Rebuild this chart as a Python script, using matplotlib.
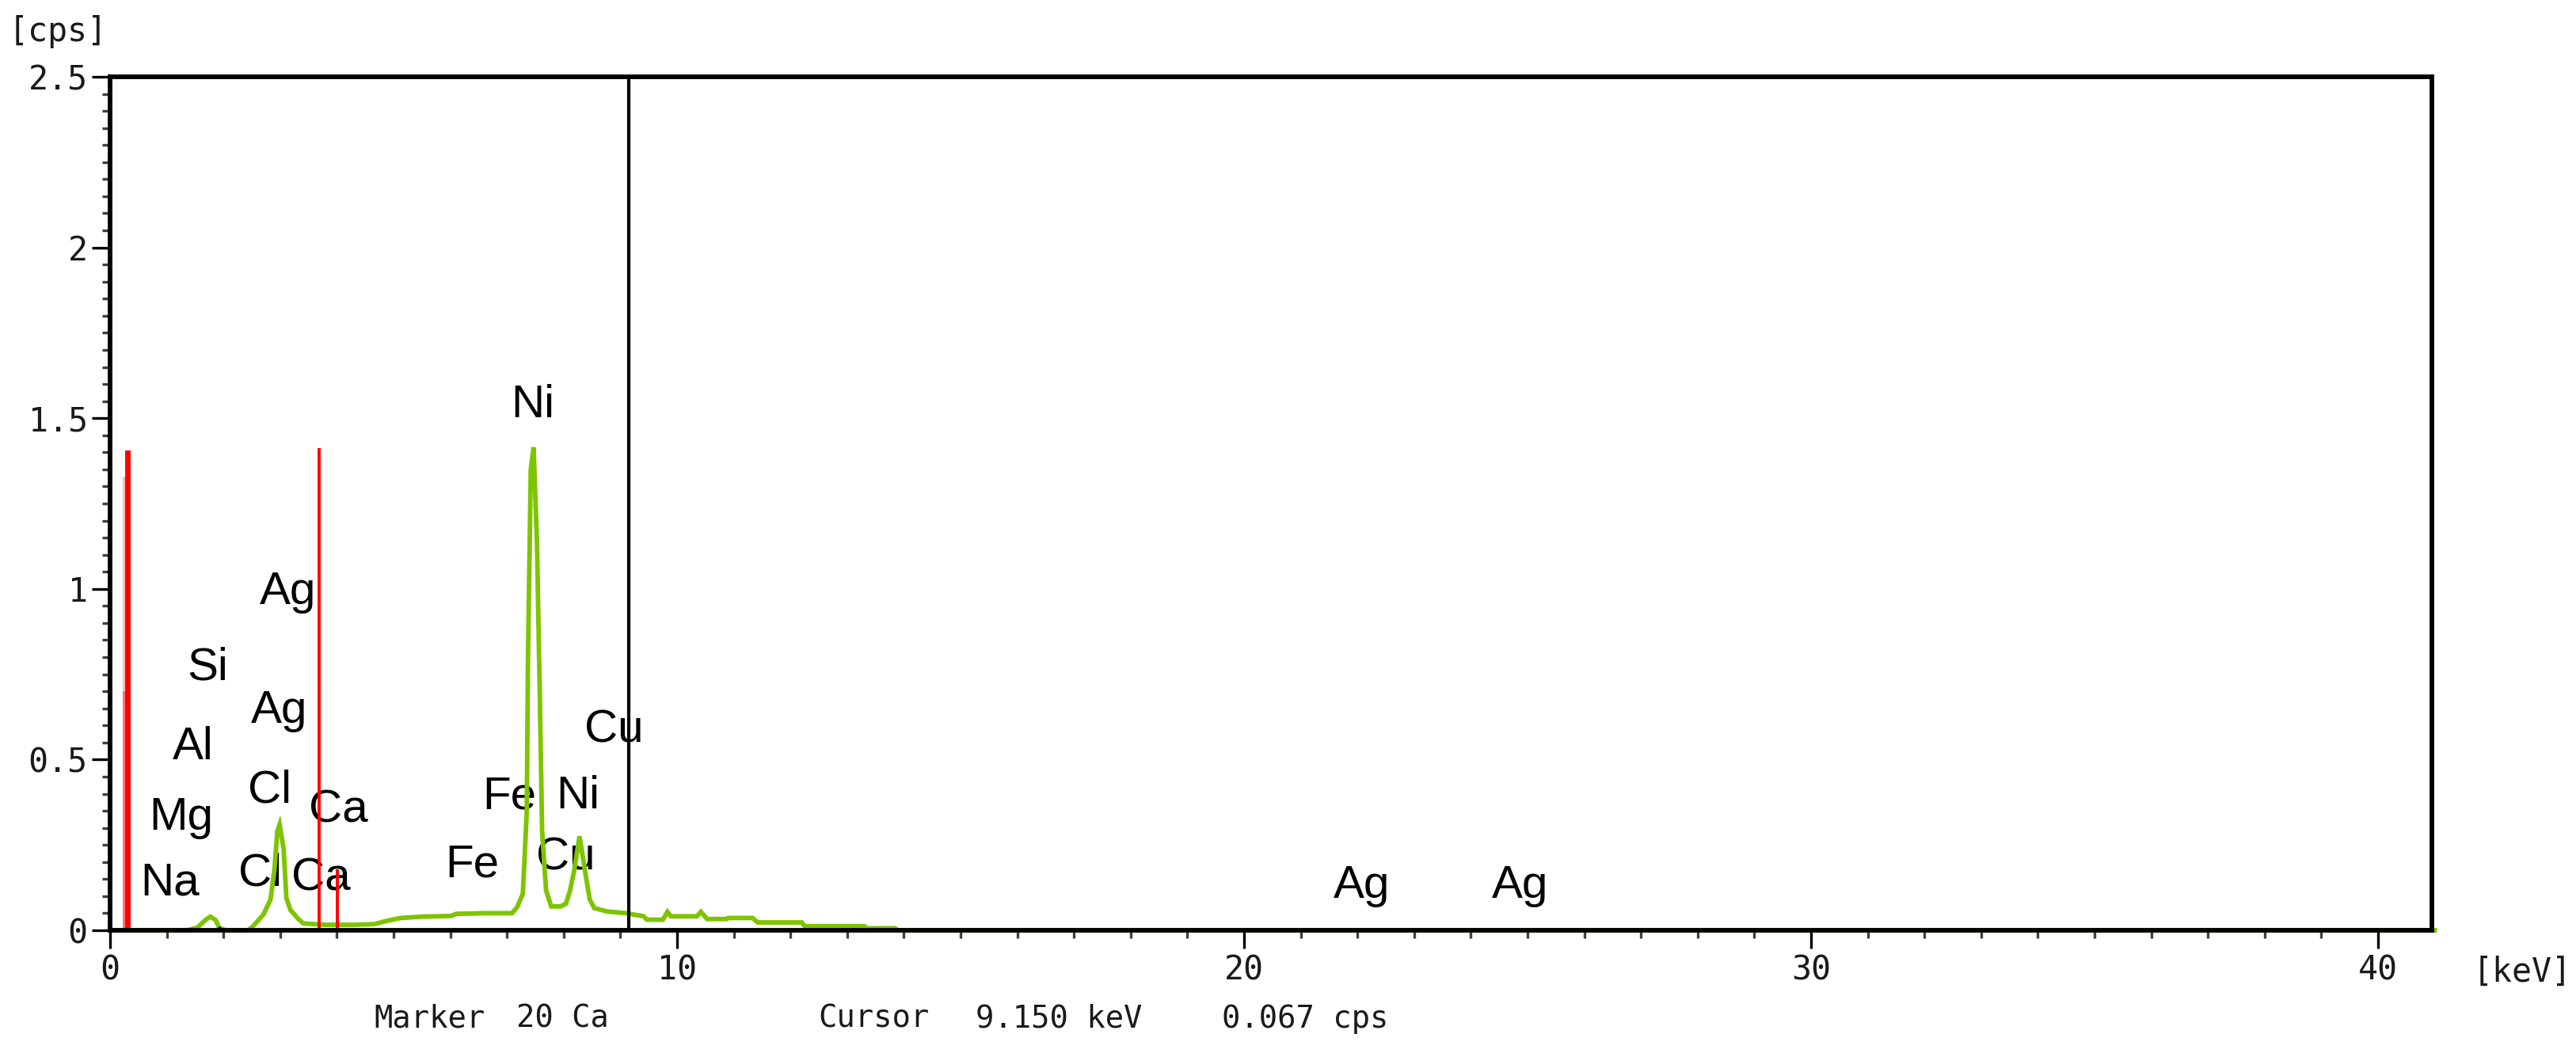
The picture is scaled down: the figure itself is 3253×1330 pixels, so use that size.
import matplotlib.pyplot as plt
from matplotlib.ticker import MultipleLocator

# EDS spectrum: energy [keV] vs count rate [cps]
energy_kev = [0.0, 1.35, 1.54, 1.68, 1.77, 1.86, 1.93, 2.05, 2.43, 2.51, 2.70, 2.83,
              2.90, 2.95, 2.99, 3.06, 3.11, 3.18, 3.32, 3.41, 3.80, 4.30, 4.66, 4.84,
              5.12, 5.50, 6.02, 6.10, 6.60, 7.09, 7.18, 7.28, 7.35, 7.37, 7.42, 7.47,
              7.53, 7.58, 7.62, 7.69, 7.78, 7.95, 8.04, 8.11, 8.18, 8.28, 8.39, 8.46,
              8.54, 8.77, 9.10, 9.41, 9.47, 9.75, 9.83, 9.89, 10.35, 10.42, 10.53, 10.87,
              10.90, 11.33, 11.42, 12.20, 12.25, 13.30, 13.35, 13.84, 13.90, 41.0]
counts_cps = [0.0, 0.0, 0.008, 0.030, 0.040, 0.030, 0.006, 0.0, 0.0, 0.010, 0.045, 0.090,
              0.180, 0.290, 0.310, 0.240, 0.094, 0.060, 0.033, 0.020, 0.016, 0.016, 0.018, 0.026,
              0.036, 0.040, 0.042, 0.048, 0.050, 0.050, 0.068, 0.107, 0.350, 0.790, 1.350, 1.415,
              1.130, 0.680, 0.290, 0.117, 0.070, 0.070, 0.078, 0.115, 0.170, 0.275, 0.160, 0.090,
              0.065, 0.055, 0.050, 0.041, 0.031, 0.031, 0.054, 0.041, 0.041, 0.054, 0.033, 0.033,
              0.036, 0.036, 0.023, 0.023, 0.012, 0.012, 0.006, 0.006, 0.0, 0.0]

# KLM marker lines (marker 20 = Ca)
marker_kev = [0.25, 0.25, 0.30, 0.34, 3.69, 4.01]
marker_cps = [1.33, 0.70, 1.405, 1.405, 1.413, 0.178]
marker_colors = ["#ffb4b4", "#ff7070", "#ff0000", "#ff0000", "#ff0000", "#ff0000"]

# cursor readout
cursor_kev = 9.15
cursor_cps = 0.067
marker_text = "Marker  20 Ca"

# element labels: name, energy of the line, label baseline height
peak_names = ["Na", "Mg", "Al", "Si", "Ag", "Ag", "Cl", "Cl", "Ca", "Ca",
              "Fe", "Fe", "Ni", "Ni", "Cu", "Cu", "Ag", "Ag"]
peak_kev = [1.05, 1.26, 1.46, 1.72, 3.13, 2.98, 2.81, 2.64, 4.02, 3.72,
            6.39, 7.04, 7.46, 8.25, 8.04, 8.88, 22.07, 24.87]
peak_label_cps = [0.103, 0.294, 0.50, 0.733, 0.956, 0.608, 0.374, 0.13, 0.317, 0.117,
                  0.156, 0.356, 1.502, 0.356, 0.178, 0.55, 0.095, 0.095]

x_ticks = [0, 10, 20, 30, 40]
y_ticks = [0, 0.5, 1, 1.5, 2, 2.5]
y_tick_labels = ["0", "0.5", "1", "1.5", "2", "2.5"]

W, H = 3253, 1330
mono = "DejaVu Sans Mono"
sans = ["Liberation Sans", "DejaVu Sans"]

fig = plt.figure(figsize=(W / 100, H / 100), dpi=100)
left, right, top, bottom = 139, 3071, 97, 1175
ax = fig.add_axes([left / W, 1 - bottom / H, (right - left) / W, (bottom - top) / H])

# spectrum
ax.plot(energy_kev, counts_cps, color="#7ec400", lw=4.2, zorder=2,
        solid_joinstyle="miter", clip_on=False)

# marker lines
for e, c, col in zip(marker_kev, marker_cps, marker_colors):
    ax.vlines(e, 0, c, color=col, lw=2.8, zorder=3)

# small blue point on the baseline
ax.vlines(1.93, 0, 0.012, color="#0000c0", lw=2.5, zorder=3)

# cursor line
ax.axvline(cursor_kev, color="black", lw=3.0, zorder=3)

# element labels
for name, e, c in zip(peak_names, peak_kev, peak_label_cps):
    ax.text(e, c, name, ha="center", va="baseline", fontsize=42,
            family=sans, color="black", zorder=1)

ax.set_xlim(0, 40.95)
ax.set_ylim(0, 2.5)

ax.set_xticks(x_ticks)
ax.set_xticklabels([str(t) for t in x_ticks])
ax.set_yticks(y_ticks)
ax.set_yticklabels(y_tick_labels)
ax.xaxis.set_minor_locator(MultipleLocator(1))
ax.yaxis.set_minor_locator(MultipleLocator(0.05))

ax.tick_params(axis="both", which="major", direction="out", length=16.5, width=2.4,
               color="black", labelsize=30, top=False, right=False)
ax.tick_params(axis="both", which="minor", direction="out", length=7.5, width=2.4,
               color="#404040", top=False, right=False)
ax.tick_params(axis="x", which="major", pad=5)
ax.tick_params(axis="y", which="major", pad=4)
for lab in ax.get_xticklabels() + ax.get_yticklabels():
    lab.set_family(mono)
    lab.set_color("#1a1a1a")

for spine in ax.spines.values():
    spine.set_linewidth(4.2)
    spine.set_color("black")
    spine.set_zorder(4)

# axis unit labels
fig.text(73 / W, 1 - 40 / H, "[cps]", ha="center", va="center", fontsize=30,
         family=mono, color="#1a1a1a")
fig.text(3185 / W, 1 - 1228 / H, "[keV]", ha="center", va="center", fontsize=30,
         family=mono, color="#1a1a1a")

# status line under the chart
status = [(472, marker_text.split("  ")[0]),
          (652, marker_text.split("  ")[1]),
          (1033, "Cursor"),
          (1232, f"{cursor_kev:.3f} keV"),
          (1543, f"{cursor_cps:.3f} cps")]
for px, s in status:
    fig.text(px / W, 1 - 1298 / H, s, ha="left", va="baseline", fontsize=28,
             family=mono, color="#1a1a1a")

plt.savefig("out.png", dpi=100)
